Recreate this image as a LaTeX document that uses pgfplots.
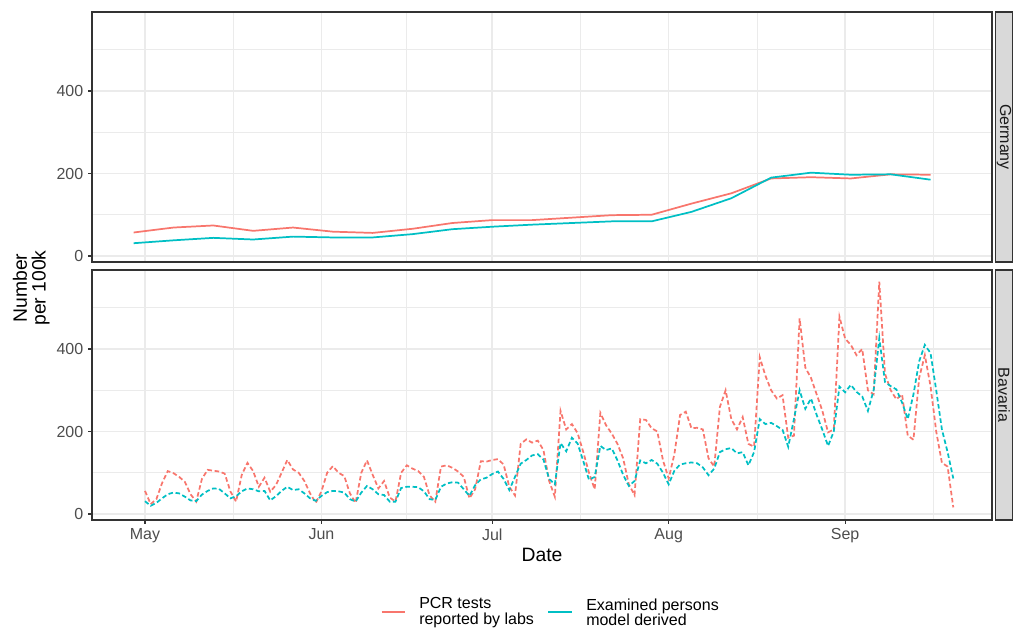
\documentclass[border=0pt]{standalone}
\usepackage{fontspec}
\setmainfont{Liberation Sans}
\usepackage{pgfplots}
\pgfplotsset{compat=1.18}
\usepackage{pgfplotstable}
\definecolor{pcr}{HTML}{F8766D}
\definecolor{exm}{HTML}{00BFC4}
\definecolor{gridc}{HTML}{EBEBEB}
\definecolor{framec}{HTML}{333333}
\definecolor{striptext}{HTML}{1A1A1A}
\definecolor{stripfill}{HTML}{D9D9D9}
\definecolor{ticktext}{HTML}{4D4D4D}

% day 0 = 1 May
\pgfplotstableread{
day pcr exm
-2 57 31
5 69 38
12 74 44
19 61 40
26 69 47
33 59 45
40 56 45
47 66 53
54 80 65
61 87 71
68 87 76
75 93 80
82 99 84
89 100 84
96 127 107
103 152 140
110 188 190
117 191 202
124 188 197
131 198 198
138 197 185
}\germany

\pgfplotstableread{
day pcr exm
0 56 31
1 24 20
2 36 27
3 75 38
4 104 48
5 99 52
6 90 50
7 78 42
8 48 33
9 30 31
10 85 47
11 107 56
12 105 62
13 103 61
14 98 50
15 55 38
16 30 43
17 95 55
18 124 62
19 104 60
20 66 55
21 88 56
22 54 33
23 70 43
24 100 56
25 131 66
26 108 58
27 100 60
28 80 50
29 50 38
30 27 32
31 55 44
32 100 53
33 116 56
34 100 55
35 92 52
36 50 36
37 27 30
38 100 52
39 130 68
40 95 60
41 62 48
42 80 46
43 40 30
44 30 30
45 100 63
46 118 66
47 110 66
48 104 65
49 90 55
50 45 36
51 30 34
52 115 66
53 118 74
54 112 77
55 103 76
56 90 60
57 38 44
58 60 70
59 128 84
60 127 88
61 131 97
62 133 103
63 120 85
64 66 58
65 45 90
66 170 122
67 181 131
68 173 142
69 178 145
70 155 132
71 80 85
72 42 72
73 250 172
74 205 152
75 218 185
76 196 171
77 150 128
78 100 83
79 60 90
80 245 165
81 215 155
82 195 159
83 170 130
84 135 95
85 72 68
86 46 80
87 230 130
88 228 123
89 208 131
90 200 122
91 130 100
92 86 72
93 145 105
94 240 120
95 248 123
96 208 125
97 209 123
98 205 113
99 135 94
100 115 110
101 260 150
102 300 157
103 230 160
104 205 147
105 235 150
106 170 118
107 163 150
108 380 230
109 335 218
110 300 221
111 280 213
112 288 204
113 185 163
114 190 230
115 474 300
116 355 255
117 330 280
118 290 240
119 250 204
120 198 165
121 205 200
122 478 309
123 425 295
124 410 313
125 385 296
126 400 285
127 300 250
128 290 300
129 563 426
130 340 320
131 300 310
132 278 302
133 290 270
134 190 230
135 180 290
136 330 370
137 385 410
138 310 390
139 200 300
140 124 205
141 115 150
142 16 86
}\bavaria

\pgfplotsset{
  panel/.style={
    scale only axis, width=675pt, height=187.5pt,
    xmin=-9.31, xmax=148.8, ymin=-14.5, ymax=591.5,
    xtick={0,31,61,92,123},
    minor xtick={15.5,46,76.5,107.5,138.5},
    ytick={0,200,400}, minor ytick={100,300,500},
    grid=both,
    major grid style={draw=gridc, line width=1.1pt},
    minor grid style={draw=gridc, line width=0.55pt},
    axis line style={draw=framec, line width=0.85pt},
    tick align=outside,
    major tick length=3pt,
    minor tick length=0pt,
    major tick style={draw=framec, line width=0.8pt},
    xtick pos=left, ytick pos=left,
    tick label style={font=\fontsize{12}{14}\selectfont, text=ticktext},
    /pgf/number format/assume math mode=true,
    anchor=south west,
  },
}

\begin{document}
\begin{tikzpicture}
\useasboundingbox (0,0) rectangle (759.75pt,472.5pt);

% Germany panel
\begin{axis}[panel, at={(69pt,276pt)}, xticklabels={}, xtick style={draw=none}]
\addplot[pcr, line width=1.3pt, no markers] table[x=day,y=pcr]{\germany};
\addplot[exm, line width=1.3pt, no markers] table[x=day,y=exm]{\germany};
\end{axis}

% Bavaria panel
\begin{axis}[panel, at={(69pt,82.5pt)}, xticklabels={May,Jun,Jul,Aug,Sep}]
\addplot[pcr, line width=1.3pt, no markers, dash pattern=on 3.4pt off 2pt] table[x=day,y=pcr]{\bavaria};
\addplot[exm, line width=1.3pt, no markers, dash pattern=on 3.4pt off 2pt] table[x=day,y=exm]{\bavaria};
\end{axis}

% strips
\draw[fill=stripfill, draw=framec, line width=0.85pt] (746.8pt,276pt) rectangle (759.3pt,463.5pt);
\draw[fill=stripfill, draw=framec, line width=0.85pt] (746.8pt,82.5pt) rectangle (759.3pt,270pt);
\node[rotate=-90, font=\fontsize{12}{14}\selectfont, text=striptext] at (753pt,369.75pt) {Germany};
\node[rotate=-90, font=\fontsize{12}{14}\selectfont, text=striptext] at (753pt,176.25pt) {Bavaria};

% axis titles
\node[font=\fontsize{14.5}{16}\selectfont] at (406.5pt,56pt) {Date};
\node[rotate=90, align=center, font=\fontsize{14.5}{14}\selectfont] at (23.5pt,256.5pt) {Number\\per 100k};

% legend
\draw[pcr, line width=1.3pt] (286.3pt,13.5pt) -- (303.75pt,13.5pt);
\node[anchor=west, align=left, inner sep=0pt, font=\fontsize{12}{11.8}\selectfont] at (314.25pt,13.3pt) {PCR tests\\reported by labs};
\draw[exm, line width=1.3pt] (411pt,13.5pt) -- (429pt,13.5pt);
\node[anchor=west, align=left, inner sep=0pt, font=\fontsize{12}{11.8}\selectfont] at (439.5pt,13.3pt) {Examined persons\\model derived};
\end{tikzpicture}
\end{document}
